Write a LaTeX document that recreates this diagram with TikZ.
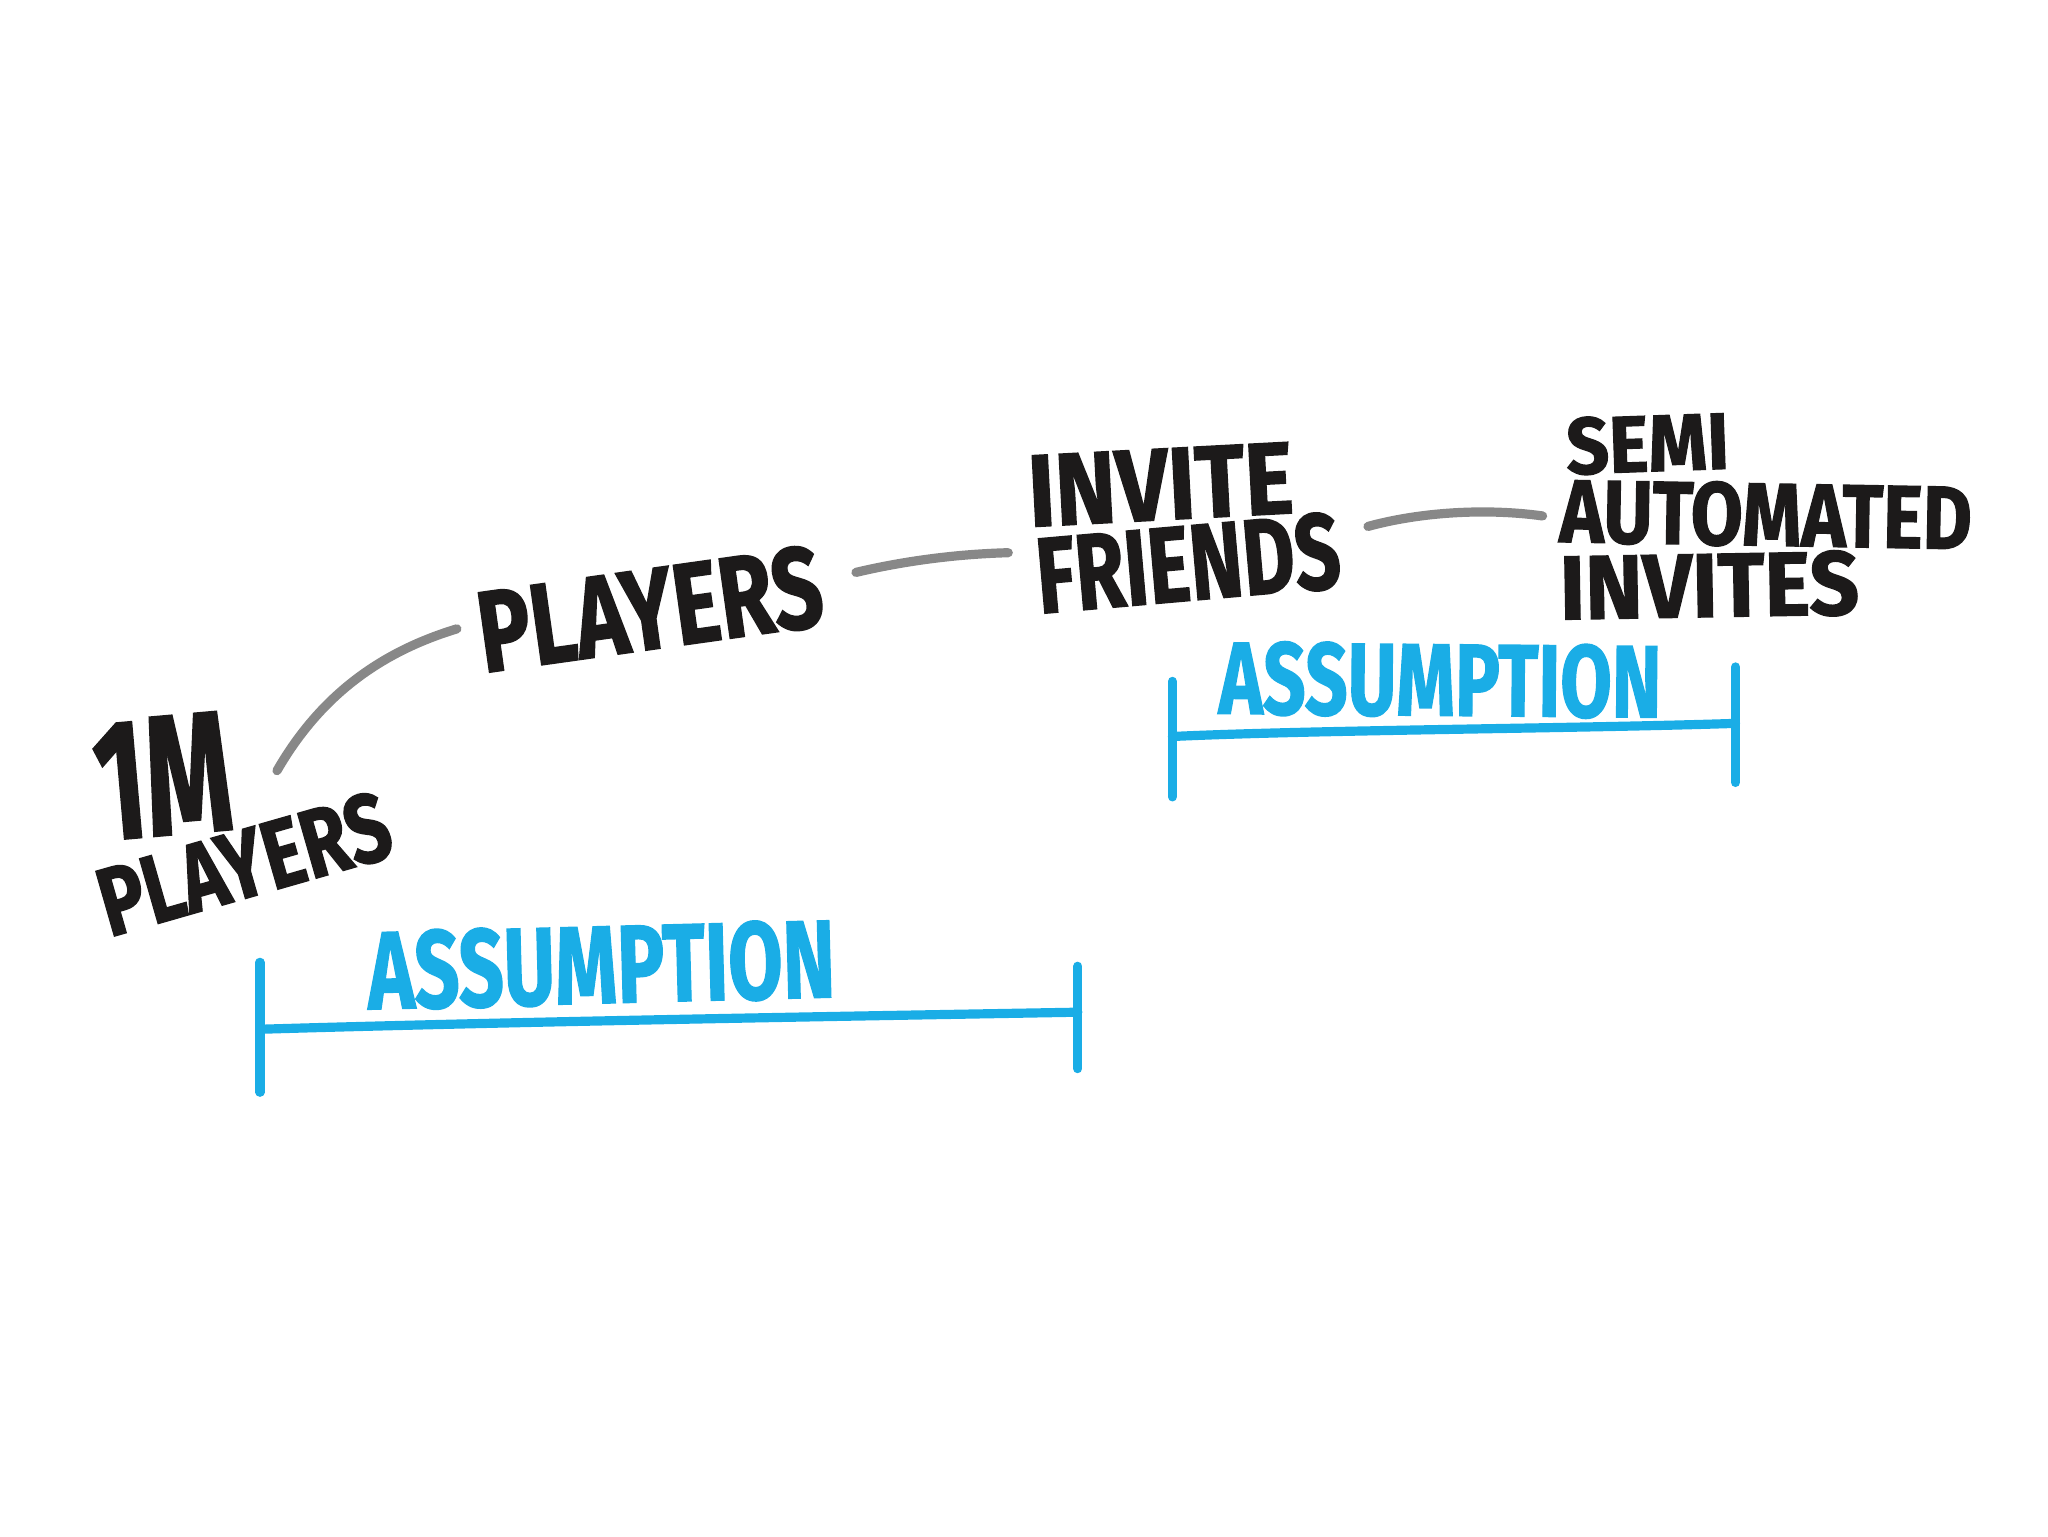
\documentclass[tikz,border=0pt]{standalone}
\usepackage{graphicx}
\usepackage{fontspec}
\setmainfont{Fira Sans}[BoldFeatures={FakeBold=1.5}]
\definecolor{ink}{HTML}{1C1A1A}
\definecolor{pen}{HTML}{888888}
\definecolor{sky}{HTML}{1AADE6}
\newcommand{\handword}[3]{\resizebox{#1pt}{\height}{\fontsize{#2}{#2}\selectfont #3}}
\begin{document}
\begin{tikzpicture}[x=1pt,y=-1pt,
  word/.style={font=\bfseries, text=ink, inner sep=0pt, anchor=center},
  blueword/.style={word, text=sky},
  link/.style={draw=pen, line width=7pt, line cap=round},
  bar/.style={draw=sky, line width=7pt, line cap=round}]
\useasboundingbox (0,0) rectangle (1560,1170);
% texts
\node[word, rotate=5] (oneM) at (124,591) {\handword{104}{130}{1M}};
\node[word, rotate=16] (pl0) at (186,658) {\handword{228}{74}{PLAYERS}};
\node[word, rotate=8] (pl1) at (495,464) {\handword{264}{88}{PLAYERS}};
\node[word, rotate=3] (inv) at (884,369) {\handword{202}{78}{INVITE}};
\node[word, rotate=5] (fri) at (905,429) {\handword{232}{82}{FRIENDS}};
\node[word, rotate=2] (semi) at (1255,338) {\handword{124}{61}{SEMI}};
\node[word, rotate=-1] (auto) at (1345,392) {\handword{314}{68}{AUTOMATED}};
\node[word, rotate=1] (invs) at (1302,446) {\handword{228}{69}{INVITES}};
\node[blueword, rotate=-0.5] (as2) at (1097,518) {\handword{337}{78}{ASSUMPTION}};
\node[blueword, rotate=1.5] (as1) at (458,735) {\handword{356}{84}{ASSUMPTION}};
% connector end points
\coordinate (c1a) at (211,587);
\coordinate (c1b) at (348,479);
\coordinate (c2a) at (652,436);
\coordinate (c2b) at (768,421);
\coordinate (c3a) at (1042,401);
\coordinate (c3b) at (1175,393);
\draw[link] (c1a) .. controls (245,528) and (292,496) .. (c1b);
\draw[link] (c2a) .. controls (690,427) and (730,422) .. (c2b);
\draw[link] (c3a) .. controls (1082,390) and (1132,387) .. (c3b);
% brackets
\coordinate (r1) at (893,519);
\coordinate (r2) at (893,607);
\coordinate (r3) at (1322,508);
\coordinate (r4) at (1322,596);
\coordinate (rl) at (893,561);
\coordinate (rr) at (1322,551);
\draw[bar] (r1) -- (r2);
\draw[bar] (r3) -- (r4);
\draw[bar] (rl) .. controls (1000,556) and (1200,555) .. (rr);
\coordinate (l1) at (198,733);
\coordinate (l2) at (198,832);
\coordinate (l3) at (821,736);
\coordinate (l4) at (821,814);
\coordinate (ll) at (198,784);
\coordinate (lr) at (821,771);
\draw[bar] (l1) -- (l2);
\draw[bar] (l3) -- (l4);
\draw[bar] (ll) .. controls (400,778) and (650,774) .. (lr);
\end{tikzpicture}
\end{document}
